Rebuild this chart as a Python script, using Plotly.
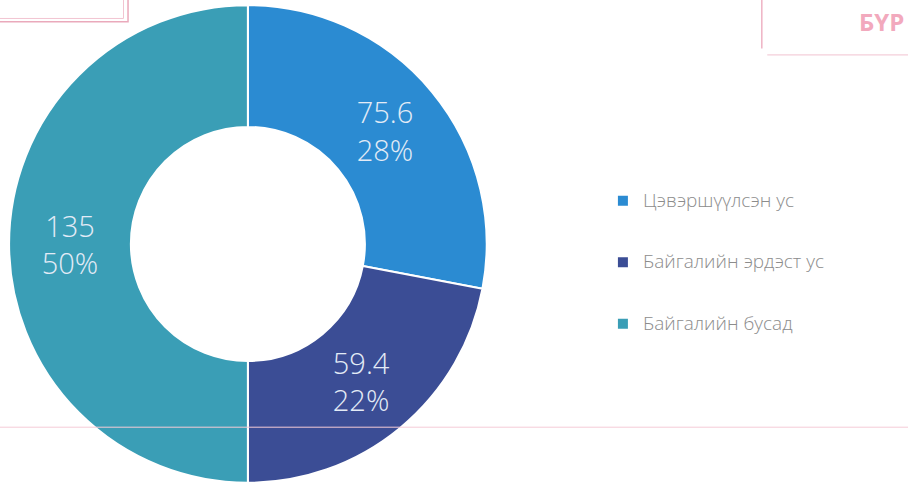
import plotly.graph_objects as go

labels = ["Цэвэршүүлсэн ус", "Байгалийн эрдэст ус", "Байгалийн бусад"]
values = [75.6, 59.4, 135]
colors = ["#2b8bd2", "#3b4d95", "#3a9eb6"]

# pad the legend labels with blank lines so the entries sit further apart
legend_labels = [
    "\u00a0<br><span style='font-size:19px'>" + s + "</span><br>\u00a0" for s in labels
]

fig = go.Figure(
    go.Pie(
        labels=legend_labels,
        values=values,
        hole=0.49,
        sort=False,
        direction="clockwise",
        rotation=0,
        marker=dict(colors=colors, line=dict(color="white", width=2)),
        texttemplate="%{value}<br>%{percent:.0%}",
        textposition="inside",
        insidetextorientation="horizontal",
        insidetextfont=dict(family="Open Sans", size=29, color="#e3ebf6", weight=300),
        domain=dict(x=[0.01, 0.536], y=[0.006, 0.99]),
        hovertext=labels,
        hoverinfo="text+value+percent",
    )
)

fig.update_layout(
    width=908,
    height=486,
    margin=dict(l=0, r=0, t=0, b=0),
    paper_bgcolor="white",
    plot_bgcolor="white",
    font=dict(family="Open Sans", color="#8a8a8a"),
    legend=dict(
        x=0.664,
        y=0.46,
        xanchor="left",
        yanchor="middle",
        font=dict(size=15, color="#8c8c8c", weight=300),
        tracegroupgap=0,
    ),
    shapes=[
        # faint stamp marks from the scanned page
        dict(type="line", xref="paper", yref="paper", x0=0, x1=1, y0=0.121, y1=0.121,
             line=dict(color="#f5cbd7", width=1)),
        dict(type="rect", xref="paper", yref="paper", x0=-0.01, x1=0.141, y0=0.955, y1=1.05,
             line=dict(color="#eaa9bb", width=1.5)),
        dict(type="rect", xref="paper", yref="paper", x0=-0.01, x1=0.136, y0=0.962, y1=1.05,
             line=dict(color="#f2c4d1", width=1)),
        dict(type="line", xref="paper", yref="paper", x0=0.839, x1=0.839, y0=0.9, y1=1.0,
             line=dict(color="#efb3c4", width=1.5)),
        dict(type="line", xref="paper", yref="paper", x0=0.845, x1=1.0, y0=0.887, y1=0.887,
             line=dict(color="#f1c3d0", width=1)),
    ],
    annotations=[
        dict(text="<b>БҮР</b>", xref="paper", yref="paper", x=0.998, y=0.955,
             xanchor="right", yanchor="middle", showarrow=False,
             font=dict(size=24, color="#f2a9bd", family="Open Sans")),
    ],
)

# drop the default page margin so the 908x486 figure fills the window
fig.write_html(
    "out.html",
    config={"displayModeBar": False},
    post_script="document.body.style.margin='0';",
)
